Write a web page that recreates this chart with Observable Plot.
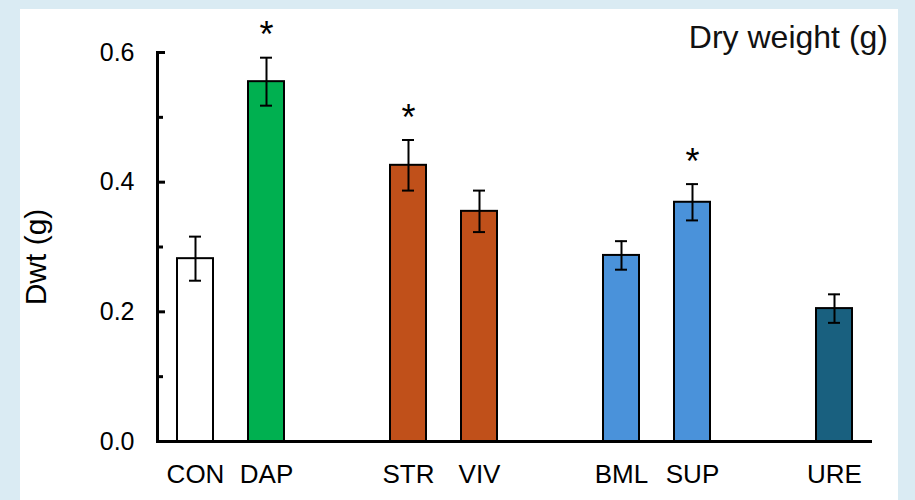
<!DOCTYPE html>
<html><head><meta charset="utf-8">
<script src="https://cdn.jsdelivr.net/npm/d3@7"></script>
<script src="https://cdn.jsdelivr.net/npm/@observablehq/plot@0.6"></script>
<style>
html,body{margin:0;padding:0;background:#daebf3;width:915px;height:500px;overflow:hidden;font-family:"Liberation Sans",Arial,sans-serif;}
#panel{position:absolute;left:20px;top:9px;width:878px;height:491px;background:#fff;}
#title{position:absolute;right:10px;top:12px;font-size:32px;line-height:1;color:#111;white-space:nowrap;}
#chart{position:absolute;left:0;top:0;}
</style></head><body>
<div id="panel"><div id="chart"></div><div id="title">Dry weight (g)</div></div>
<script>
const treatments = ["CON","DAP","STR","VIV","BML","SUP","URE"];
const xSlots = ["CON","DAP","","STR","VIV"," ","BML","SUP","  ","URE"];
const meanDwt = [0.282, 0.555, 0.426, 0.355, 0.287, 0.369, 0.205];
const seDwt = [0.034, 0.037, 0.039, 0.032, 0.022, 0.028, 0.022];
const significant = [false, true, true, false, false, true, false];
const barColors = ["#ffffff","#00b050","#c0501a","#c0501a","#4a92da","#4a92da","#19607f"];
const yTicks = [0, 0.2, 0.4, 0.6];
const yMinorTicks = [0.1, 0.3, 0.5];
const yLabel = "Dwt (g)";

const data = treatments.map((t, i) => ({t, v: meanDwt[i], se: seDwt[i], sig: significant[i], color: barColors[i]}));

const chart = Plot.plot({
  width: 878, height: 491,
  marginLeft: 137, marginRight: 26, marginTop: 43, marginBottom: 59,
  style: {background: "transparent", fontFamily: "'Liberation Sans', Arial, sans-serif", color: "#000"},
  x: {domain: xSlots, paddingInner: 0.5, paddingOuter: 0.25, axis: null},
  y: {domain: [0, 0.6], axis: null},
  color: {type: "identity"},
  marks: [
    Plot.barY(data, {x: "t", y: "v", fill: "color", stroke: "#000", strokeWidth: 2}),
    Plot.ruleX(data, {x: "t", y1: d => d.v - d.se, y2: d => d.v + d.se, stroke: "#000", strokeWidth: 2}),
    Plot.tickY(data, {x: "t", y: d => d.v + d.se, stroke: "#000", strokeWidth: 2, inset: 12}),
    Plot.tickY(data, {x: "t", y: d => d.v - d.se, stroke: "#000", strokeWidth: 2, inset: 12}),
    Plot.text(data.filter(d => d.sig), {x: "t", y: d => d.v + d.se, text: () => "*", fontSize: 36, dy: -22}),
    Plot.ruleY([0], {stroke: "#000", strokeWidth: 3}),
    Plot.frame({anchor: "left", stroke: "#000", strokeWidth: 3}),
    Plot.axisY({ticks: yTicks, tickSize: -8, strokeWidth: 3, tickFormat: () => "", label: null}),
    Plot.axisY({ticks: yMinorTicks, tickSize: -6, strokeWidth: 3, tickFormat: () => "", label: null}),
    Plot.axisY({ticks: yTicks, tickSize: 0, tickPadding: 23, tickFormat: d => d.toFixed(1), fontSize: 25, label: null}),
    Plot.axisX({tickSize: 0, tickPadding: 23, fontSize: 26, tickFormat: d => d.trim(), label: null}),
    Plot.text([yLabel], {frameAnchor: "left", textAnchor: "middle", rotate: -90, dx: -121, dy: 10, fontSize: 30})
  ]
});
document.getElementById("chart").appendChild(chart);
</script>
</body></html>
